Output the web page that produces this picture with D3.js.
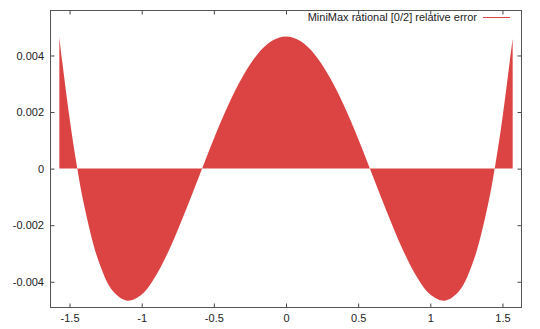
<!DOCTYPE html>
<html>
<head>
<meta charset="utf-8">
<script src="https://cdn.jsdelivr.net/npm/d3@7"></script>
<style>
  body { margin: 0; background: #fff; }
  svg text { font-family: "Liberation Sans", Arial, sans-serif; font-size: 11px; fill: #222; }
</style>
</head>
<body>
<script>
// data
var xValues = [-1.5708, -1.55, -1.5, -1.45, -1.4, -1.3, -1.2, -1.1, -1.0, -0.9, -0.8, -0.7, -0.6, -0.5, -0.4, -0.3, -0.2, -0.1,
               0, 0.1, 0.2, 0.3, 0.4, 0.5, 0.6, 0.7, 0.8, 0.9, 1.0, 1.1, 1.2, 1.3, 1.4, 1.45, 1.5, 1.55, 1.5708];
var errValues = [0.00465, 0.00376, 0.00179, 0.00012, -0.00127, -0.00325, -0.00433, -0.00467, -0.00445, -0.00377, -0.00276, -0.00154, -0.00024, 0.00106, 0.00225, 0.00326, 0.00403, 0.00451,
                 0.00467, 0.00451, 0.00403, 0.00326, 0.00225, 0.00106, -0.00024, -0.00154, -0.00276, -0.00377, -0.00445, -0.00467, -0.00433, -0.00325, -0.00127, 0.00012, 0.00179, 0.00376, 0.00458];
var xTicks = [-1.5, -1, -0.5, 0, 0.5, 1, 1.5];
var yTicks = [-0.004, -0.002, 0, 0.002, 0.004];
var legendLabel = "MiniMax rational [0/2] relative error";

var W = 540, H = 329;
var pLeft = 50.5, pRight = 521.5, pTop = 10.5, pBottom = 307.5;
var red = "#dc4444";

var svg = d3.select("body").append("svg")
            .attr("width", W)
            .attr("height", H);

var x = d3.scaleLinear().domain([-1.632, 1.632]).range([pLeft, pRight]);
var y = d3.scaleLinear().domain([-0.00491, 0.00559]).range([pBottom, pTop]);

var pts = xValues.map(function(d, i){ return [d, errValues[i]]; });

// filled error curve, between curve and zero
var area = d3.area()
             .x(function(d){ return x(d[0]); })
             .y0(y(0))
             .y1(function(d){ return y(d[1]); })
             .curve(d3.curveCatmullRom.alpha(0.5));

svg.append("path")
   .datum(pts)
   .attr("d", area)
   .attr("fill", red);

// axes, ticks pointing in, mirrored on top/right
function fmt(d){ return String(d); }

svg.append("g").attr("transform", "translate(0," + pBottom + ")")
   .call(d3.axisBottom(x).tickValues(xTicks).tickSize(-4).tickPadding(6.5).tickFormat(fmt));
svg.append("g").attr("transform", "translate(0," + pTop + ")")
   .call(d3.axisTop(x).tickValues(xTicks).tickSize(-4).tickFormat(""));
svg.append("g").attr("transform", "translate(" + pLeft + ",0)")
   .call(d3.axisLeft(y).tickValues(yTicks).tickSize(-4).tickPadding(6.5).tickFormat(fmt));
svg.append("g").attr("transform", "translate(" + pRight + ",0)")
   .call(d3.axisRight(y).tickValues(yTicks).tickSize(-4).tickFormat(""));

svg.selectAll(".domain").remove();
svg.selectAll(".tick line").attr("stroke", "#444");
svg.selectAll(".tick text").attr("font-family", null).attr("font-size", null);

svg.append("rect")
   .attr("x", pLeft).attr("y", pTop)
   .attr("width", pRight - pLeft).attr("height", pBottom - pTop)
   .attr("fill", "none")
   .attr("stroke", "#555")
   .attr("stroke-width", 1);

// key
svg.append("text")
   .attr("x", 477).attr("y", 21)
   .attr("text-anchor", "end")
   .text(legendLabel);
svg.append("line")
   .attr("x1", 483).attr("x2", 510)
   .attr("y1", 17.5).attr("y2", 17.5)
   .attr("stroke", red)
   .attr("stroke-width", 1);
</script>
</body>
</html>
